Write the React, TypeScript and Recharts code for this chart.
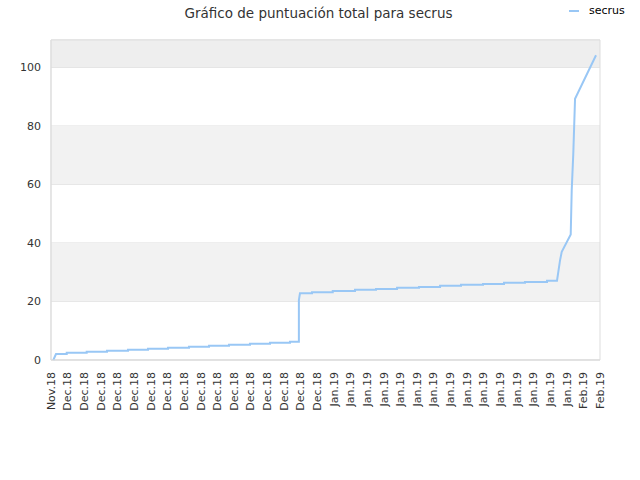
import {
  LineChart,
  Line,
  XAxis,
  YAxis,
  CartesianGrid,
  ReferenceArea,
} from "recharts";

// x = days since 29 Nov 2018
const startDate = Date.UTC(2018, 10, 29);
const monthNames = ["Jan", "Feb", "Mar", "Apr", "May", "Jun", "Jul", "Aug", "Sep", "Oct", "Nov", "Dec"];
const tickDays = [
  0, 2, 4, 6, 8, 10, 12, 14, 16, 18, 20, 22, 24, 26, 28, 30, 32, 34, 36, 38, 40, 42, 44, 46, 48, 50,
  52, 54, 56, 58, 60, 62, 64, 66,
];
const yTicks = [0, 20, 40, 60, 80, 100];

const days = [
  0.28, 0.6, 1.89, 1.89, 4.29, 4.29, 6.73, 6.73, 9.26, 9.26, 11.66, 11.66, 14.07, 14.07, 16.59, 16.59,
  19.0, 19.0, 21.4, 21.4, 23.92, 23.92, 26.33, 26.33, 28.73, 28.73, 29.8, 29.8, 29.93, 31.38, 31.38,
  33.87, 33.87, 36.55, 36.55, 39.07, 39.07, 41.6, 41.6, 44.24, 44.24, 46.77, 46.77, 49.29, 49.29,
  51.94, 51.94, 54.46, 54.46, 56.98, 56.98, 59.63, 59.63, 60.83, 61.19, 61.4, 62.48, 62.6, 62.79, 63.0,
  65.52,
];
const scores = [
  0, 2.05, 2.05, 2.5, 2.5, 2.85, 2.85, 3.2, 3.2, 3.5, 3.5, 3.85, 3.85, 4.2, 4.2, 4.55, 4.55, 4.9, 4.9,
  5.2, 5.2, 5.55, 5.55, 5.9, 5.9, 6.25, 6.25, 20.5, 22.8, 22.8, 23.2, 23.2, 23.6, 23.6, 24.0, 24.0,
  24.3, 24.3, 24.7, 24.7, 25.0, 25.0, 25.4, 25.4, 25.7, 25.7, 26.0, 26.0, 26.4, 26.4, 26.7, 26.7,
  27.1, 27.1, 34, 37, 42.9, 58, 70.6, 89.3, 104.2,
];

const data = days.map((day, i) => ({ day, score: scores[i] }));
const yMax = Math.max(...scores) * 1.05;
const xMax = tickDays[tickDays.length - 1];

const font = "DejaVu Sans, sans-serif";
const lineColor = "#99c7f5";

const dayLabel = (d: number) => {
  const dt = new Date(startDate + d * 86400000);
  return `${monthNames[dt.getUTCMonth()]}.${String(dt.getUTCFullYear()).slice(2)}`;
};

const XTick = ({ x, y, payload }: any) => (
  <text
    x={x}
    y={y}
    transform={`rotate(-90 ${x} ${y})`}
    textAnchor="end"
    dy="0.35em"
    fontSize={11}
    fill="#333"
    fontFamily={font}
  >
    {dayLabel(payload.value)}
  </text>
);

export default function App() {
  return (
    <div
      style={{
        position: "absolute",
        left: 0,
        top: 0,
        width: 640,
        height: 480,
        background: "#fff",
        fontFamily: font,
      }}
    >
      <div
        style={{
          position: "absolute",
          top: 5,
          left: 0,
          width: 637,
          textAlign: "center",
          fontSize: 13.5,
          color: "#333",
        }}
      >
        Gráfico de puntuación total para secrus
      </div>
      <div style={{ position: "absolute", top: 4, left: 569, display: "flex", alignItems: "center" }}>
        <div style={{ width: 10, height: 2, background: lineColor }} />
        <span style={{ marginLeft: 10, fontSize: 11, color: "#000" }}>secrus</span>
      </div>
      <LineChart
        width={640}
        height={480}
        data={data}
        margin={{ top: 40, right: 40, left: 0, bottom: 0 }}
      >
        <ReferenceArea y1={20} y2={40} x1={0} x2={xMax} fill="#f2f2f2" fillOpacity={1} stroke="none" />
        <ReferenceArea y1={60} y2={80} x1={0} x2={xMax} fill="#f2f2f2" fillOpacity={1} stroke="none" />
        <ReferenceArea y1={100} y2={yMax} x1={0} x2={xMax} fill="#eeeeee" fillOpacity={1} stroke="none" />
        <CartesianGrid vertical={false} stroke="#dddddd" />
        <ReferenceArea y1={0} y2={yMax} x1={0} x2={xMax} fill="none" stroke="#dddddd" />
        <XAxis
          type="number"
          dataKey="day"
          domain={[0, xMax]}
          ticks={tickDays}
          interval={0}
          height={120}
          tickSize={0}
          tickMargin={12}
          axisLine={{ stroke: "#dddddd" }}
          tick={<XTick />}
        />
        <YAxis
          type="number"
          domain={[0, yMax]}
          ticks={yTicks}
          width={51}
          tickSize={0}
          tickMargin={10}
          axisLine={{ stroke: "#dddddd" }}
          tick={{ fontSize: 11, fill: "#333", fontFamily: font }}
        />
        <Line
          type="linear"
          dataKey="score"
          stroke={lineColor}
          strokeWidth={2}
          dot={false}
          isAnimationActive={false}
        />
      </LineChart>
    </div>
  );
}
